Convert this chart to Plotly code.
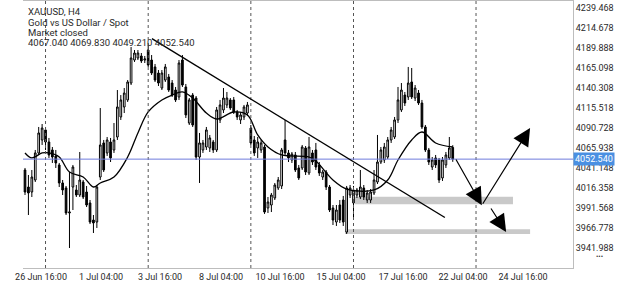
import plotly.graph_objects as go

# ---------------- data ----------------
opens = [4039.1, 4018.0, 4011.8, 4026.7, 4060.2, 4076.3, 4088.7, 4073.8, 4063.9, 4056.5,
         4045.3, 4023.0, 4016.8, 3985.8, 4018.0, 4014.3, 4008.1, 4024.2, 4011.8, 3998.2,
         3977.1, 3974.6, 4030.4, 4072.6, 4060.2, 4073.8, 4063.9, 4080.0, 4104.8, 4117.2,
         4125.9, 4146.9, 4175.4, 4177.9, 4180.4, 4175.4, 4187.8, 4175.4, 4166.8, 4159.3,
         4140.7, 4150.6, 4154.4, 4146.9, 4138.2, 4129.6, 4175.4, 4142.0, 4097.3, 4132.0,
         4128.3, 4055.2, 4063.9, 4067.6, 4066.4, 4073.8, 4063.9, 4101.1, 4113.5, 4119.7,
         4125.9, 4125.9, 4111.0, 4101.1, 4104.8, 4109.7, 4091.1, 4076.3, 4066.4, 4063.9,
         4067.6, 3992.0, 3995.7, 4004.4, 4016.8, 4019.3, 4076.3, 4060.2, 4051.5, 4057.7,
         4041.6, 4041.6, 4066.4, 4035.4, 4060.2, 4063.9, 4045.3, 4030.4, 4036.6, 4018.0,
         3992.0, 3974.6, 3995.7, 4001.9, 3962.2, 4008.1, 3998.2, 4008.1, 4005.6, 4016.8,
         4001.9, 4001.9, 4010.6, 4024.2, 4049.0, 4051.5, 4055.2, 4076.3, 4080.0, 4101.1,
         4113.5, 4132.0, 4129.6, 4148.2, 4128.3, 4134.5, 4122.1, 4092.4, 4063.9, 4042.8,
         4054.0, 4051.5, 4029.2, 4045.3, 4054.0, 4067.04]
highs = [4041.6, 4032.9, 4039.1, 4063.9, 4092.4, 4096.1, 4092.4, 4078.8, 4067.6, 4063.9,
         4047.8, 4026.7, 4019.3, 4036.6, 4045.3, 4020.5, 4061.4, 4026.7, 4019.3, 4001.9,
         3983.3, 4020.5, 4115.9, 4076.3, 4080.0, 4078.8, 4097.3, 4138.2, 4132.0, 4140.7,
         4150.6, 4191.5, 4187.8, 4187.8, 4184.1, 4180.4, 4194.0, 4181.6, 4170.5, 4163.0,
         4163.0, 4170.5, 4158.1, 4150.6, 4142.0, 4175.4, 4181.6, 4145.7, 4128.3, 4134.5,
         4130.8, 4085.0, 4076.3, 4092.4, 4082.5, 4076.3, 4117.2, 4125.9, 4140.7, 4135.8,
         4128.3, 4129.6, 4113.5, 4111.0, 4119.7, 4123.4, 4094.9, 4081.2, 4080.0, 4076.3,
         4070.1, 4005.6, 4010.6, 4023.0, 4030.4, 4066.4, 4101.1, 4063.9, 4061.4, 4061.4,
         4045.3, 4070.1, 4068.8, 4080.0, 4063.9, 4072.6, 4049.0, 4039.1, 4039.1, 4020.5,
         3995.7, 3995.7, 4001.9, 4006.9, 4019.3, 4020.5, 4019.3, 4016.8, 4039.1, 4020.5,
         4014.3, 4015.5, 4039.1, 4082.5, 4067.6, 4072.6, 4080.0, 4092.4, 4104.8, 4142.0,
         4146.9, 4135.8, 4166.8, 4165.5, 4144.4, 4138.2, 4125.9, 4094.9, 4066.4, 4055.2,
         4057.7, 4054.0, 4055.2, 4061.4, 4080.0, 4069.83]
lows = [4008.1, 3983.3, 4005.6, 4024.2, 4057.7, 4070.1, 4063.9, 4054.0, 4047.8, 4041.6,
        4018.0, 4008.1, 3983.3, 3942.4, 3989.5, 4005.6, 4005.6, 4003.1, 3993.2, 3972.1,
        3961.0, 3967.2, 4026.7, 4036.6, 4056.5, 4049.0, 4060.2, 4076.3, 4101.1, 4109.7,
        4123.4, 4144.4, 4173.0, 4175.4, 4171.7, 4171.7, 4166.8, 4156.8, 4148.2, 4143.2,
        4138.2, 4148.2, 4135.8, 4129.6, 4123.4, 4125.9, 4142.0, 4103.5, 4094.9, 4092.4,
        4051.5, 4023.0, 4060.2, 4063.9, 4061.4, 4060.2, 4061.4, 4097.3, 4109.7, 4115.9,
        4113.5, 4108.5, 4101.1, 4096.1, 4101.1, 4106.0, 4070.1, 4056.5, 4054.0, 4060.2,
        3984.6, 3985.8, 3987.0, 4001.9, 4014.3, 4015.5, 4057.7, 4049.0, 4047.8, 4036.6,
        4026.7, 4039.1, 4032.9, 4032.9, 4045.3, 4039.1, 4031.7, 4026.7, 4014.3, 3987.0,
        3970.9, 3969.7, 3973.4, 3969.7, 3959.8, 4004.4, 3980.8, 4004.4, 4003.1, 4001.9,
        3998.2, 3998.2, 4008.1, 4021.7, 4046.5, 4047.8, 4052.7, 4072.6, 4077.5, 4097.3,
        4111.0, 4118.4, 4125.9, 4127.1, 4124.6, 4119.7, 4089.9, 4061.4, 4045.3, 4039.1,
        4041.6, 4023.0, 4025.5, 4041.6, 4051.5, 4049.21]
closes = [4011.8, 4010.6, 4030.4, 4060.2, 4085.0, 4091.1, 4073.8, 4057.7, 4055.2, 4047.8,
          4023.0, 4014.3, 3985.8, 3987.0, 4042.8, 4008.1, 4026.7, 4005.6, 3995.7, 3974.6,
          3973.4, 4018.0, 4070.1, 4039.1, 4076.3, 4054.0, 4076.3, 4117.2, 4125.9, 4134.5,
          4148.2, 4177.9, 4184.1, 4184.1, 4174.2, 4176.7, 4169.2, 4159.3, 4150.6, 4146.9,
          4159.3, 4166.8, 4138.2, 4132.0, 4125.9, 4171.7, 4144.4, 4107.3, 4125.9, 4094.9,
          4055.2, 4072.6, 4072.6, 4088.7, 4078.8, 4063.9, 4113.5, 4119.7, 4128.3, 4128.3,
          4115.9, 4111.0, 4104.8, 4107.3, 4117.2, 4119.7, 4072.6, 4060.2, 4073.8, 4072.6,
          3987.0, 3999.4, 4008.1, 4020.5, 4026.7, 4063.9, 4060.2, 4054.0, 4058.9, 4039.1,
          4029.2, 4067.6, 4036.6, 4067.6, 4049.0, 4042.8, 4035.4, 4036.6, 4018.0, 3989.5,
          3977.1, 3989.5, 3977.1, 3974.6, 4016.8, 4016.8, 4014.3, 4014.3, 4018.0, 4005.6,
          4010.6, 4011.8, 4026.7, 4049.0, 4063.9, 4067.6, 4076.3, 4088.7, 4101.1, 4125.9,
          4138.2, 4122.1, 4146.9, 4129.6, 4140.7, 4122.1, 4092.4, 4063.9, 4049.0, 4051.5,
          4045.3, 4026.7, 4051.5, 4057.7, 4066.4, 4052.54]
bars = list(range(len(closes)))

# moving average, read at selected bars
ma_bar = [0, 2, 5, 7, 10, 13, 17, 20, 22, 26, 30, 33, 36, 40, 43, 46, 49, 53, 56, 61,
          65, 68, 71, 75, 83, 85, 90, 94, 102, 106, 109, 113, 116, 120, 125]
ma_val = [4060.2, 4054.0, 4060.2, 4060.2, 4055.2, 4036.6, 4030.4, 4018.0, 4023.0, 4030.4,
          4055.2, 4085.0, 4111.0, 4125.9, 4132.0, 4135.8, 4128.3, 4109.7, 4102.3, 4111.0,
          4107.3, 4082.5, 4067.6, 4057.7, 4055.2, 4050.2, 4026.7, 4015.5, 4014.3, 4026.7,
          4051.5, 4076.3, 4086.2, 4072.6, 4067.6]

last_price = 4052.54
y_ticks = [4239.468, 4214.678, 4189.888, 4165.098, 4140.308, 4115.518, 4090.728,
           4065.938, 4041.148, 4016.358, 3991.568, 3966.778, 3941.988]
x_tick_bar = [4.68, 22.21, 39.45, 57.28, 74.52, 92.34, 110.46, 127.99, 145.53]
x_tick_text = ["26 Jun 16:00", "1 Jul 04:00", "3 Jul 16:00", "8 Jul 04:00", "10 Jul 16:00",
               "15 Jul 04:00", "17 Jul 16:00", "22 Jul 04:00", "24 Jul 16:00"]

# chart drawings (in bar / price units)
separators = [6, 36, 66, 96, 131.8]
trend_line = [(37.1, 4201.8), (122.7, 3980.2)]
zones = [(96.4, 142.6, 3996.6, 4006.0), (93.5, 147.6, 3959.8, 3965.6)]
arrows = [((125.7, 4054.0), (133.5, 3995.4)),
          ((133.5, 3995.4), (147.6, 4091.1)),
          ((135.9, 3993.2), (140.6, 3962.2))]
header = ["XAUUSD, H4", "Gold vs US Dollar / Spot", "Market closed",
          "4067.040 4069.830 4049.210 4052.540"]

FONT = "Roboto"
TXT = "#2a2a2a"

fig = go.Figure()
fig.add_trace(go.Candlestick(
    x=bars, open=opens, high=highs, low=lows, close=closes,
    increasing=dict(line=dict(color="#000000", width=1), fillcolor="#ffffff"),
    decreasing=dict(line=dict(color="#000000", width=1), fillcolor="#000000"),
    whiskerwidth=0, hoverinfo="skip", showlegend=False))
fig.add_trace(go.Scatter(
    x=ma_bar, y=ma_val, mode="lines",
    line=dict(color="#000000", width=1.3, shape="spline", smoothing=1),
    hoverinfo="skip", showlegend=False))

shapes = []
for x0, x1, y0, y1 in zones:
    shapes.append(dict(type="rect", xref="x", yref="y", x0=x0, x1=x1, y0=y0, y1=y1,
                       fillcolor="#c9c9c9", line=dict(width=0), layer="below"))
for sx in separators:
    shapes.append(dict(type="line", xref="x", yref="paper", x0=sx, x1=sx, y0=0, y1=1,
                       line=dict(color="#555555", width=1, dash="3px,3px")))
shapes.append(dict(type="line", xref="paper", yref="y", x0=0, x1=1,
                   y0=last_price, y1=last_price, line=dict(color="#6f7bdc", width=1)))
(tx0, ty0), (tx1, ty1) = trend_line
shapes.append(dict(type="line", xref="x", yref="y", x0=tx0, y0=ty0, x1=tx1, y1=ty1,
                   line=dict(color="#000000", width=1.4)))

annotations = []
for (sx, sy), (ex, ey) in arrows:
    annotations.append(dict(x=ex, y=ey, ax=sx, ay=sy, xref="x", yref="y",
                            axref="x", ayref="y", text="", showarrow=True,
                            arrowhead=2, arrowsize=2.9, arrowwidth=1.2,
                            arrowcolor="#000000"))
header_y = [0.9599, 0.9202, 0.8828, 0.8438]
for t, hy in zip(header, header_y):
    annotations.append(dict(text=t, xref="paper", yref="paper", x=0.0055, y=hy,
                            xanchor="left", yanchor="middle", showarrow=False,
                            font=dict(family=FONT, size=9.5, color=TXT)))
annotations.append(dict(text="%.3f" % last_price, xref="paper", yref="y", x=1.0,
                        y=last_price, xanchor="left", yanchor="middle", showarrow=False,
                        bgcolor="#4a90e2", borderpad=1,
                        font=dict(family=FONT, size=9, color="#ffffff")))
annotations.append(dict(text="•••", xref="paper", yref="paper", x=1.049, y=0.041,
                        xanchor="center", yanchor="middle", showarrow=False,
                        font=dict(family=FONT, size=7, color="#333333")))

fig.update_layout(
    width=625, height=281,
    margin=dict(l=23, r=52, t=1, b=13, autoexpand=False),
    paper_bgcolor="#ffffff", plot_bgcolor="#ffffff",
    font=dict(family=FONT, size=9, color=TXT),
    shapes=shapes, annotations=annotations, showlegend=False,
    xaxis=dict(range=[-0.584, 160.14], rangeslider=dict(visible=False),
               showgrid=False, zeroline=False, showline=True, mirror=True,
               linecolor="#bdbdbd", linewidth=1, ticks="",
               tickmode="array", tickvals=x_tick_bar, ticktext=x_tick_text,
               tickfont=dict(family=FONT, size=9, color=TXT)),
    yaxis=dict(range=[3917.61, 4248.56], side="right", showgrid=False,
               zeroline=False, showline=True, linecolor="#bdbdbd", linewidth=1,
               ticks="", tickmode="array", tickvals=y_ticks,
               ticktext=["%.3f" % v for v in y_ticks],
               tickfont=dict(family=FONT, size=9, color=TXT)),
)

fig.write_html("out.html", config={"displayModeBar": False})
